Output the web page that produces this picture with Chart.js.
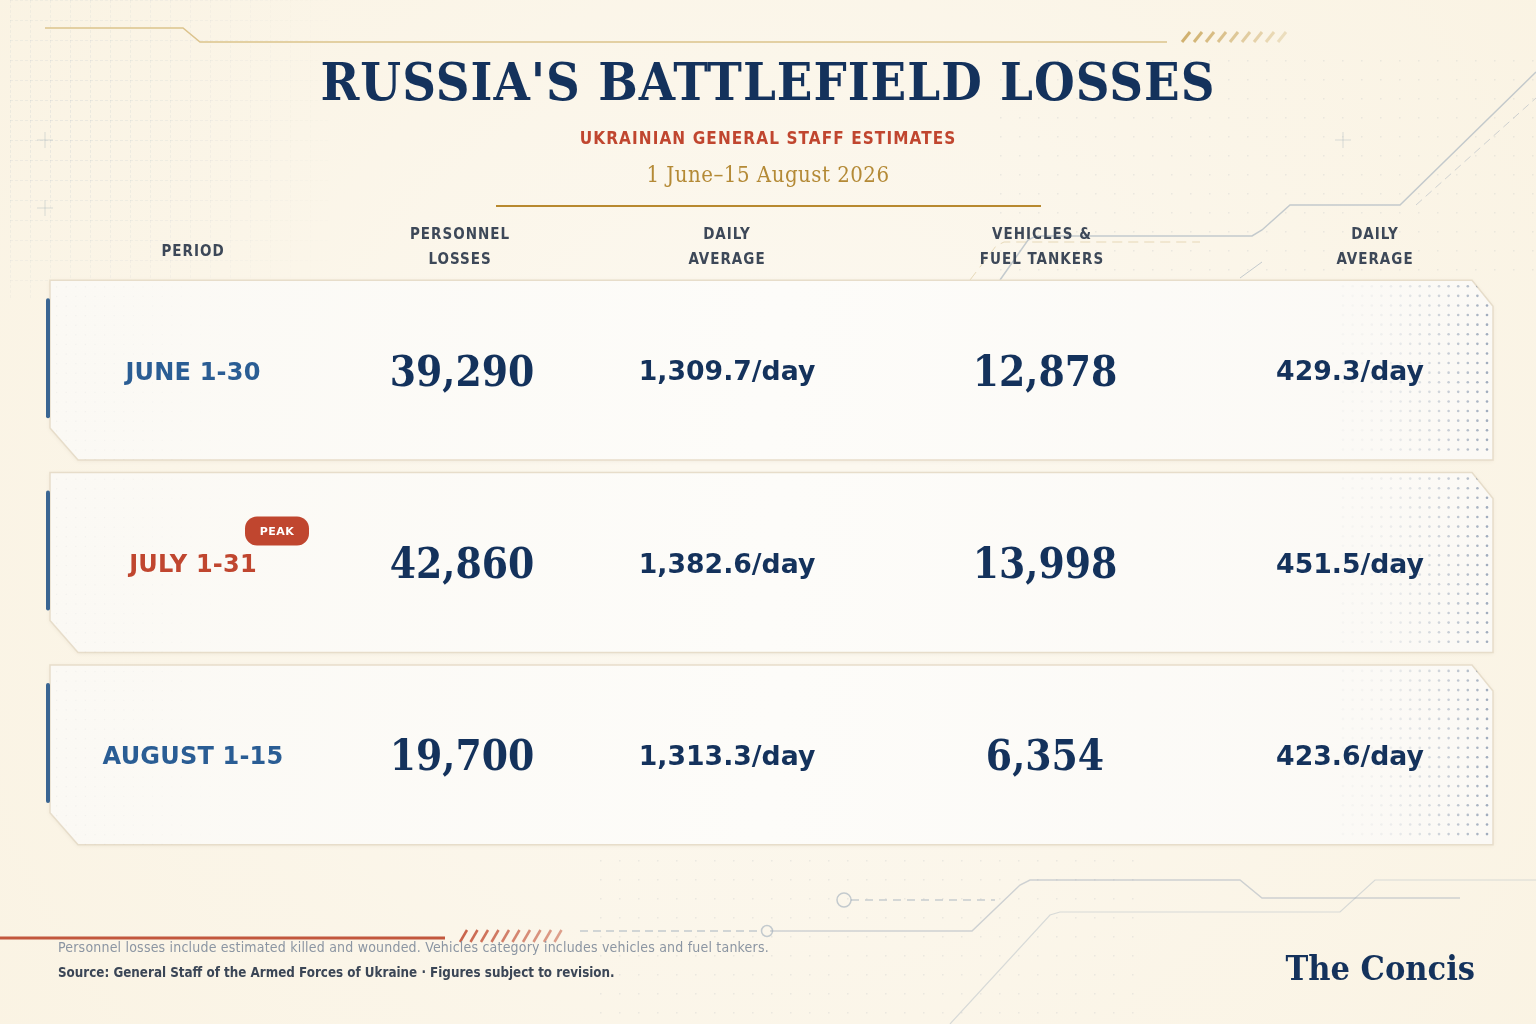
<!DOCTYPE html>
<html>
<head>
<meta charset="utf-8">
<title>Russia's Battlefield Losses</title>
<script src="https://cdn.jsdelivr.net/npm/chart.js@4.4.1/dist/chart.umd.min.js"></script>
<style>
  html, body { margin: 0; padding: 0; background: #fbf5e8; }
  #wrap { width: 1536px; height: 1024px; position: relative; }
  canvas { display: block; }
</style>
</head>
<body>
<div id="wrap"><canvas id="lossChart" width="1536" height="1024"></canvas></div>
<script>
// ---------- Data ----------
const periods = ["JUNE 1-30", "JULY 1-31", "AUGUST 1-15"];
const personnelLosses = [39290, 42860, 19700];
const personnelDaily = [1309.7, 1382.6, 1313.3];
const vehicleLosses = [12878, 13998, 6354];
const vehicleDaily = [429.3, 451.5, 423.6];
const peakFlags = [false, true, false];
const columnHeaders = [
  ["PERIOD"],
  ["PERSONNEL", "LOSSES"],
  ["DAILY", "AVERAGE"],
  ["VEHICLES &", "FUEL TANKERS"],
  ["DAILY", "AVERAGE"]
];

// ---------- Look ----------
const NAVY = "#14325c";
const BLUE = "#2a5d94";
const RED = "#c0462f";
const GOLD = "#b48a36";
const HEAD = "#3d4858";
const SERIF = "'DejaVu Serif Condensed', 'DejaVu Serif', serif";
const SANS = "'DejaVu Sans', sans-serif";
const SANS_C = "'DejaVu Sans Condensed', 'DejaVu Sans', sans-serif";

// column centres (px) for cells and headers
const cellX = [193, 462, 727, 1045, 1350];
const headX = [193, 460, 727, 1042, 1375];

function fmtInt(v) { return v.toLocaleString("en-US"); }
function fmtDaily(v) {
  return v.toLocaleString("en-US", { minimumFractionDigits: 1, maximumFractionDigits: 1 }) + "/day";
}

function text(ctx, s, x, y, font, color, align, spacing) {
  ctx.save();
  ctx.font = font;
  ctx.fillStyle = color;
  ctx.textAlign = align || "center";
  ctx.textBaseline = "alphabetic";
  ctx.letterSpacing = (spacing || 0) + "px";
  ctx.fillText(s, x, y);
  ctx.restore();
}

function line(ctx, pts, color, width, dash) {
  ctx.save();
  ctx.strokeStyle = color;
  ctx.lineWidth = width;
  ctx.setLineDash(dash || []);
  ctx.beginPath();
  pts.forEach((p, i) => i ? ctx.lineTo(p[0], p[1]) : ctx.moveTo(p[0], p[1]));
  ctx.stroke();
  ctx.restore();
}

// ---------- Background & decorations ----------
const backdrop = {
  id: "backdrop",
  beforeDraw(chart) {
    const ctx = chart.ctx;
    const W = chart.width, H = chart.height;
    ctx.save();
    const g = ctx.createRadialGradient(W / 2, H / 2, 100, W / 2, H / 2, 950);
    g.addColorStop(0, "#fcf8ef");
    g.addColorStop(1, "#faf3e3");
    ctx.fillStyle = g;
    ctx.fillRect(0, 0, W, H);

    // faint drafting grid, top-left
    for (let x = 10; x < 320; x += 20) {
      for (let y = 0; y < 290; y += 20) {
        const d = Math.hypot(x - 60, y - 120);
        const a = Math.max(0, 0.16 - d / 1900);
        if (a <= 0) continue;
        ctx.strokeStyle = `rgba(150,170,190,${a})`;
        ctx.lineWidth = 1;
        ctx.setLineDash([3, 2]);
        ctx.beginPath();
        ctx.moveTo(x + 0.5, y); ctx.lineTo(x + 0.5, y + 20);
        ctx.moveTo(x, y + 0.5); ctx.lineTo(x + 20, y + 0.5);
        ctx.stroke();
      }
    }
    ctx.setLineDash([]);
    [[45, 140], [45, 208], [1343, 140]].forEach(p => {
      line(ctx, [[p[0] - 8, p[1]], [p[0] + 8, p[1]]], "rgba(150,165,180,0.35)", 1);
      line(ctx, [[p[0], p[1] - 8], [p[0], p[1] + 8]], "rgba(150,165,180,0.35)", 1);
    });

    // faint dot field on the right
    ctx.fillStyle = "rgba(160,170,180,0.18)";
    for (let x = 1000; x < W; x += 19) {
      for (let y = 60; y < 280; y += 19) ctx.fillRect(x, y, 1.5, 1.5);
      for (let y = 860; y < H; y += 19) ctx.fillRect(x - 400, y, 1.5, 1.5);
    }

    // top gold rule with hatch
    line(ctx, [[45, 28], [183, 28], [200, 42], [1167, 42]], "#dcc38c", 1.5);
    for (let i = 0; i < 9; i++) {
      const x = 1182 + i * 12;
      line(ctx, [[x, 42], [x + 8, 32]], `rgba(201,165,90,${0.85 - i * 0.07})`, 3);
    }
    // divider under the date
    line(ctx, [[496, 206], [1041, 206]], "#b8892f", 2);

    // circuit traces top-right
    const trace = "rgba(150,165,182,0.55)";
    line(ctx, [[1000, 280], [1028, 240], [1036, 236], [1252, 236], [1262, 230], [1290, 205], [1400, 205], [1536, 72]], trace, 1.5);
    line(ctx, [[1416, 205], [1536, 98]], "rgba(150,165,182,0.45)", 1, [8, 5]);
    line(ctx, [[970, 280], [996, 246], [1004, 242], [1200, 242]], "rgba(205,180,120,0.45)", 1, [10, 6]);
    line(ctx, [[1240, 278], [1262, 262]], trace, 1);

    // circuit traces bottom
    ctx.strokeStyle = "rgba(150,165,182,0.55)";
    ctx.lineWidth = 1.5;
    ctx.beginPath(); ctx.arc(844, 900, 7, 0, Math.PI * 2); ctx.stroke();
    line(ctx, [[851, 900], [995, 900]], "rgba(150,165,182,0.5)", 1.5, [8, 6]);
    line(ctx, [[770, 931], [972, 931], [1020, 885], [1030, 880], [1240, 880], [1262, 898], [1460, 898]], "rgba(150,165,182,0.45)", 1.5);
    line(ctx, [[950, 1024], [1050, 915], [1060, 912], [1340, 912], [1375, 880], [1536, 880]], "rgba(150,165,182,0.35)", 1.2);
    line(ctx, [[580, 931], [760, 931]], "rgba(150,165,182,0.55)", 1.5, [8, 5]);
    ctx.beginPath(); ctx.arc(767, 931, 5.5, 0, Math.PI * 2); ctx.stroke();

    // red rule bottom-left with hatch
    line(ctx, [[0, 938], [445, 938]], "#c2573d", 3);
    for (let i = 0; i < 10; i++) {
      const x = 460 + i * 10.5;
      line(ctx, [[x, 942], [x + 7, 930]], `rgba(196,85,59,${0.9 - i * 0.04})`, 2.5);
    }
    ctx.restore();
  }
};

// ---------- Row panels, drawn from the bar elements ----------
const panels = {
  id: "panels",
  beforeDatasetsDraw(chart) {
    const ctx = chart.ctx;
    const meta = chart.getDatasetMeta(0);
    meta.data.forEach((bar, i) => {
      const L = bar.base, R = bar.x;
      const T = bar.y - bar.height / 2, B = bar.y + bar.height / 2;
      ctx.save();
      ctx.beginPath();
      ctx.moveTo(L, T);
      ctx.lineTo(R - 21, T);
      ctx.lineTo(R, T + 26);
      ctx.lineTo(R, B);
      ctx.lineTo(L + 28, B);
      ctx.lineTo(L, B - 32);
      ctx.closePath();
      const g = ctx.createLinearGradient(L, T, R, B);
      g.addColorStop(0, "#fbf9f4");
      g.addColorStop(0.5, "#fdfcf9");
      g.addColorStop(1, "#fbf9f5");
      ctx.fillStyle = g;
      ctx.shadowColor = "rgba(120,100,60,0.10)";
      ctx.shadowBlur = 4;
      ctx.shadowOffsetY = 1;
      ctx.fill();
      ctx.shadowColor = "transparent";
      ctx.strokeStyle = "#e7ddca";
      ctx.lineWidth = 1.5;
      ctx.stroke();
      ctx.clip();

      // halftone dots on the right end
      for (let x = R - 150; x < R - 4; x += 9.6) {
        const t = (x - (R - 150)) / 146;
        for (let y = T + 6; y < B - 2; y += 9.6) {
          const a = 0.04 + 0.62 * t * t;
          ctx.fillStyle = `rgba(110,130,158,${a})`;
          ctx.beginPath();
          ctx.arc(x, y, 1.3, 0, Math.PI * 2);
          ctx.fill();
        }
      }
      // very faint dots on the left end
      for (let x = L + 6; x < L + 180; x += 9.6) {
        for (let y = T + 6; y < B; y += 9.6) {
          ctx.fillStyle = `rgba(150,160,175,${0.10 * (1 - (x - L) / 180)})`;
          ctx.fillRect(x, y, 1.2, 1.2);
        }
      }
      ctx.restore();

      // left accent bar
      ctx.save();
      ctx.fillStyle = "#3a6592";
      ctx.beginPath();
      ctx.roundRect(L - 4, T + 18, 4, 120, 2);
      ctx.fill();
      ctx.restore();
    });
  }
};

// ---------- Titles, headers, cell text ----------
const labels = {
  id: "labels",
  afterDatasetsDraw(chart) {
    const ctx = chart.ctx;
    const yScale = chart.scales.y;

    text(ctx, "RUSSIA'S BATTLEFIELD LOSSES", 768, 100, `bold 52px ${SERIF}`, NAVY, "center", 1);
    text(ctx, "UKRAINIAN GENERAL STAFF ESTIMATES", 768, 144, `bold 17px ${SANS_C}`, RED, "center", 1.1);
    text(ctx, "1 June\u201315 August 2026", 768, 182, `22px ${SERIF}`, GOLD, "center", 0.5);

    columnHeaders.forEach((h, c) => {
      if (h.length === 1) {
        text(ctx, h[0], headX[c], 256, `bold 15px ${SANS_C}`, HEAD, "center", 1);
      } else {
        text(ctx, h[0], headX[c], 239, `bold 15px ${SANS_C}`, HEAD, "center", 1);
        text(ctx, h[1], headX[c], 264, `bold 15px ${SANS_C}`, HEAD, "center", 1);
      }
    });

    periods.forEach((p, i) => {
      const y = yScale.getPixelForValue(i) + 0.5;
      text(ctx, p, cellX[0], y + 9, `bold 24px ${SANS}`, peakFlags[i] ? RED : BLUE, "center", 0.2);
      if (peakFlags[i]) {
        ctx.save();
        ctx.fillStyle = RED;
        ctx.beginPath();
        ctx.roundRect(245, y - 46.5, 64, 29, 12);
        ctx.fill();
        ctx.restore();
        text(ctx, "PEAK", 277, y - 28, `bold 11px ${SANS}`, "#ffffff", "center", 0.5);
      }
      text(ctx, fmtInt(personnelLosses[i]), cellX[1], y + 15, `bold 42px ${SERIF}`, NAVY, "center", 0);
      text(ctx, fmtDaily(personnelDaily[i]), cellX[2], y + 9.5, `bold 26.7px ${SANS}`, NAVY, "center", 0);
      text(ctx, fmtInt(vehicleLosses[i]), cellX[3], y + 15, `bold 42px ${SERIF}`, NAVY, "center", 0);
      text(ctx, fmtDaily(vehicleDaily[i]), cellX[4], y + 9.5, `bold 26.7px ${SANS}`, NAVY, "center", 0);
    });

    text(ctx, "Personnel losses include estimated killed and wounded. Vehicles category includes vehicles and fuel tankers.",
      58, 952, `14px ${SANS_C}`, "#8b95a2", "left", 0.2);
    text(ctx, "Source: General Staff of the Armed Forces of Ukraine \u00b7 Figures subject to revision.",
      58, 977, `bold 13.3px ${SANS_C}`, "#3b4656", "left", 0);
    text(ctx, "The Concis", 1475, 980, `bold 34px ${SERIF}`, NAVY, "right", 0);
  }
};

// ---------- Chart ----------
function renderLossTable() {
  const ctx = document.getElementById("lossChart").getContext("2d");
  new Chart(ctx, {
    type: "bar",
    data: {
      labels: periods,
      datasets: [{
        label: "Period",
        data: periods.map(() => [0, 1]),
        backgroundColor: "rgba(0,0,0,0)",
        borderWidth: 0,
        barPercentage: 0.935,
        categoryPercentage: 1
      }]
    },
    options: {
      indexAxis: "y",
      responsive: false,
      animation: false,
      devicePixelRatio: 1,
      layout: { padding: { left: 50, right: 43, top: 274, bottom: 173 } },
      scales: {
        x: { type: "linear", min: 0, max: 1, display: false },
        y: { display: false }
      },
      plugins: {
        legend: { display: false },
        tooltip: { enabled: false }
      }
    },
    plugins: [backdrop, panels, labels]
  });
}

renderLossTable();
</script>
</body>
</html>
